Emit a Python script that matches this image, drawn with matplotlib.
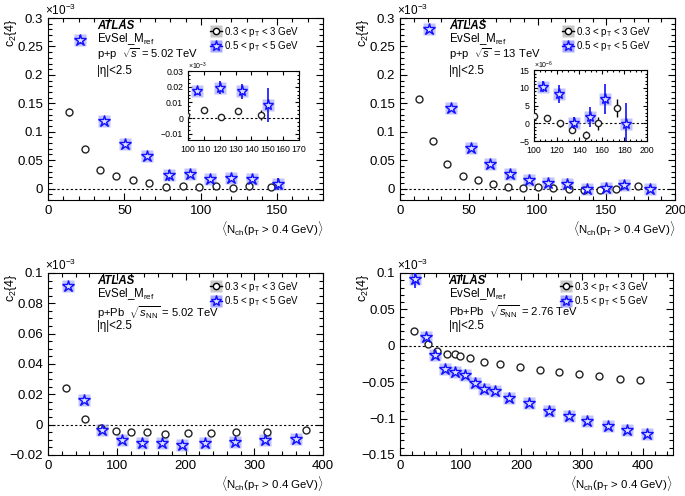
import numpy as np
import matplotlib
matplotlib.use("Agg")
import matplotlib.pyplot as plt
from matplotlib.ticker import MultipleLocator, FuncFormatter
from matplotlib.lines import Line2D

plt.rcParams['font.family'] = ['Liberation Sans', 'DejaVu Sans']
plt.rcParams['mathtext.fontset'] = 'custom'
plt.rcParams['mathtext.rm'] = 'Liberation Sans'
plt.rcParams['mathtext.it'] = 'Liberation Sans:italic'
plt.rcParams['mathtext.bf'] = 'Liberation Sans:bold'

# ---- data (c2{4} in units of 1e-3) ----
# p+p 5.02 TeV
pp5_x_lo = [13.7, 24, 34.2, 44.7, 55.6, 66.3, 77, 88.3, 98.8, 110, 121, 131.5, 146]
pp5_y_lo = [0.135, 0.069, 0.032, 0.022, 0.016, 0.009, 0.002, 0.004, 0.002, 0.005, 0.001, 0.0045, 0.002]
pp5_e_lo = [0.007, 0.003, 0.002, 0.002, 0.002, 0.002, 0.002, 0.002, 0.002, 0.001, 0.0015, 0.0015, 0.003]
pp5_x_hi = [20.7, 36.4, 50.4, 64.5, 79, 92.6, 105.7, 120, 133.8, 150.4]
pp5_y_hi = [0.262, 0.119, 0.078, 0.058, 0.0235, 0.025, 0.017, 0.0195, 0.017, 0.0085]
pp5_e_hi = [0.008, 0.004, 0.004, 0.004, 0.01, 0.004, 0.002, 0.004, 0.005, 0.011]

# p+p 13 TeV
pp13_x_lo = [13.8, 24.2, 34.4, 45.6, 56.5, 67.4, 78.8, 89.2, 100.4, 111.5, 122.9, 134, 145.7, 157, 173]
pp13_y_lo = [0.158, 0.083, 0.043, 0.023, 0.0147, 0.0082, 0.0035, 0.0018, 0.002, 0.0015, 0.0, -0.002, -0.0033, 0.0, 0.0042]
pp13_e_lo = [0.003, 0.002, 0.002, 0.001, 0.001, 0.001, 0.001, 0.001, 0.0005, 0.0005, 0.001, 0.0008, 0.0012, 0.0018, 0.0025]
pp13_x_hi = [21.3, 36.8, 51.6, 65.5, 80, 93.8, 107.9, 121.7, 135.8, 149.6, 163, 181.8]
pp13_y_hi = [0.281, 0.141, 0.071, 0.044, 0.025, 0.0147, 0.0103, 0.0083, 0.0, 0.0018, 0.0068, -0.0002]
pp13_e_hi = [0.004, 0.003, 0.002, 0.002, 0.002, 0.002, 0.0015, 0.0025, 0.0017, 0.0028, 0.0043, 0.0058]

# p+Pb 5.02 TeV
ppb_x_lo = [26.7, 53.3, 76.6, 98.4, 121, 144, 169.7, 203.6, 237.6, 273, 319, 375.8]
ppb_y_lo = [0.024, 0.004, -0.002, -0.004, -0.005, -0.005, -0.006, -0.0057, -0.0057, -0.005, -0.005, -0.0035]
ppb_x_hi = [29, 51.9, 78, 108, 137, 166, 195.4, 228.8, 272.5, 316, 361]
ppb_y_hi = [0.0914, 0.016, -0.0033, -0.0099, -0.0119, -0.0123, -0.0137, -0.0119, -0.0114, -0.0099, -0.0095]

# Pb+Pb 2.76 TeV
pbpb_x_lo = [23, 46.4, 61.7, 78, 90, 99.5, 116, 137.7, 164.5, 197, 230, 262, 295, 328, 362, 395.6]
pbpb_y_lo = [0.0197, 0.0023, -0.0078, -0.011, -0.0115, -0.0138, -0.0174, -0.0216, -0.0248, -0.0294,
             -0.0326, -0.036, -0.039, -0.041, -0.045, -0.047]
pbpb_x_hi = [24.6, 42.6, 57, 74.3, 91, 107, 123, 139, 156, 180, 213, 245, 278, 309, 342.6, 374, 407]
pbpb_y_hi = [0.092, 0.0125, -0.012, -0.0317, -0.0362, -0.040, -0.0505, -0.0587, -0.062, -0.072, -0.079,
             -0.089, -0.0963, -0.1028, -0.110, -0.116, -0.1216]
pbpb_e_hi = [0.012] + [0.001] * 16

lab_lo = "0.3 < p$_\\mathrm{T}$ < 3 GeV"
lab_hi = "0.5 < p$_\\mathrm{T}$ < 5 GeV"
xlabel = "$\\langle$N$_\\mathrm{ch}$(p$_\\mathrm{T}$ > 0.4 GeV)$\\rangle$"

BLUE = '#1010ff'
BOX_BLUE = '#a8a8ff'
BOX_GREY = '#c8c8c8'


def fmt(v, p):
    s = ('%g' % round(v, 6))
    return s.replace('-', '\u2212')


def draw(ax, x_lo, y_lo, e_lo, x_hi, y_hi, e_hi, ms_c=5, ms_s=9, box=9):
    ax.plot(x_hi, y_hi, ls='none', marker='s', ms=box, mfc=BOX_BLUE, mec='none', alpha=0.7, zorder=2)
    ax.errorbar(x_lo, y_lo, yerr=e_lo, ls='none', marker='o', ms=ms_c, mfc='white', mec='#222222',
                mew=1.0, ecolor='black', elinewidth=1.0, capsize=0, zorder=3)
    ax.errorbar(x_hi, y_hi, yerr=e_hi, ls='none', marker='*', ms=ms_s, mfc='#e0e0ff', mec=BLUE,
                mew=1.0, ecolor=BLUE, elinewidth=1.2, capsize=0, zorder=4)
    ax.axhline(0, color='black', ls=(0, (2, 2)), lw=0.8, zorder=1)


def style(ax, xmaj, xmin, ymaj, ymin, fs=9.5, tl=5):
    ax.tick_params(which='both', direction='in', top=True, right=True, labelsize=fs)
    ax.tick_params(which='major', length=tl, width=0.8)
    ax.tick_params(which='minor', length=tl * 0.55, width=0.8)
    ax.xaxis.set_major_locator(MultipleLocator(xmaj))
    ax.xaxis.set_minor_locator(MultipleLocator(xmin))
    ax.yaxis.set_major_locator(MultipleLocator(ymaj))
    ax.yaxis.set_minor_locator(MultipleLocator(ymin))
    ax.yaxis.set_major_formatter(FuncFormatter(fmt))
    ax.xaxis.set_major_formatter(FuncFormatter(fmt))
    for s in ax.spines.values():
        s.set_linewidth(0.8)


def labels(ax, sysline, ys=0.80):
    ax.text(-0.01, 1.0, "\u00d710$^{-3}$", transform=ax.transAxes, ha='left', va='bottom', fontsize=8.5)
    ax.text(-0.135, 1.0, "c$_2${4}", transform=ax.transAxes, rotation=90, ha='center', va='top', fontsize=9)
    ax.text(1.0, -0.105, xlabel, transform=ax.transAxes, ha='right', va='top', fontsize=8.2)
    x0 = 0.178
    ax.text(x0, 0.957, "ATLAS", transform=ax.transAxes, fontsize=8.3, fontweight='bold', style='italic', va='center')
    ax.text(x0, 0.885, "EvSel_M$_\\mathrm{ref}$", transform=ax.transAxes, fontsize=8.3, va='center')
    ax.text(x0, ys, sysline, transform=ax.transAxes, fontsize=8.1, va='center')
    ax.text(x0, 0.71, "|\u03b7|<2.5", transform=ax.transAxes, fontsize=8.3, va='center')
    h_lo = (Line2D([], [], ls='none', marker='s', ms=8, mfc=BOX_GREY, mec='none'),
            Line2D([], [], color='black', lw=1, marker='o', ms=4.5, mfc='white', mec='black'))
    h_hi = (Line2D([], [], ls='none', marker='s', ms=8, mfc=BOX_BLUE, mec='none'),
            Line2D([], [], color=BLUE, lw=1, marker='*', ms=8, mfc='#e0e0ff', mec=BLUE))
    ax.legend([h_lo, h_hi], [lab_lo, lab_hi], loc='upper right', bbox_to_anchor=(0.935, 0.995),
              frameon=False, fontsize=7, handlelength=1.2, handletextpad=0.25, labelspacing=0.05,
              borderaxespad=0.2)


fig = plt.figure(figsize=(6.85, 4.96), dpi=100)

# top-left
ax1 = fig.add_axes([0.0701, 0.5968, 0.4015, 0.3669])
draw(ax1, pp5_x_lo, pp5_y_lo, pp5_e_lo, pp5_x_hi, pp5_y_hi, pp5_e_hi)
ax1.set_xlim(0, 180)
ax1.set_ylim(-0.02, 0.3)
style(ax1, 50, 10, 0.05, 0.01)
labels(ax1, "p+p  $\\sqrt{s}$ = 5.02 TeV", ys=0.803)

in1 = fig.add_axes([0.2745, 0.7177, 0.162, 0.139])
draw(in1, pp5_x_lo, pp5_y_lo, pp5_e_lo, pp5_x_hi, pp5_y_hi, pp5_e_hi, ms_c=4.5, ms_s=8, box=8)
in1.set_xlim(100, 170)
in1.set_ylim(-0.014, 0.03)
style(in1, 10, 10, 0.01, 0.0025, fs=6.3, tl=3)
in1.text(0.0, 0.99, "\u00d710$^{-3}$", transform=in1.transAxes, ha='left', va='bottom', fontsize=5)

# top-right
ax2 = fig.add_axes([0.584, 0.5968, 0.4015, 0.3669])
draw(ax2, pp13_x_lo, pp13_y_lo, pp13_e_lo, pp13_x_hi, pp13_y_hi, pp13_e_hi)
ax2.set_xlim(0, 200)
ax2.set_ylim(-0.02, 0.3)
style(ax2, 50, 10, 0.05, 0.01)
labels(ax2, "p+p  $\\sqrt{s}$ = 13 TeV", ys=0.803)

in2 = fig.add_axes([0.7796, 0.7157, 0.165, 0.1431])
s6 = 1000.0  # 1e-3 -> 1e-6 units
draw(in2, pp13_x_lo, np.array(pp13_y_lo) * s6, np.array(pp13_e_lo) * s6,
     pp13_x_hi, np.array(pp13_y_hi) * s6, np.array(pp13_e_hi) * s6, ms_c=4.5, ms_s=8, box=8)
in2.set_xlim(100, 200)
in2.set_ylim(-5, 15)
style(in2, 20, 5, 5, 1, fs=6.3, tl=3)
in2.text(0.0, 0.99, "\u00d710$^{-6}$", transform=in2.transAxes, ha='left', va='bottom', fontsize=5)

# bottom-left
ax3 = fig.add_axes([0.0701, 0.0827, 0.4015, 0.3669])
draw(ax3, ppb_x_lo, ppb_y_lo, [0.0006] * len(ppb_x_lo), ppb_x_hi, ppb_y_hi, [0.001] * len(ppb_x_hi))
ax3.set_xlim(0, 400)
ax3.set_ylim(-0.02, 0.1)
style(ax3, 100, 20, 0.02, 0.005)
labels(ax3, "p+Pb  $\\sqrt{s_\\mathrm{NN}}$ = 5.02 TeV", ys=0.785)

# bottom-right
ax4 = fig.add_axes([0.584, 0.0827, 0.3985, 0.3669])
draw(ax4, pbpb_x_lo, pbpb_y_lo, [0.001] * len(pbpb_x_lo), pbpb_x_hi, pbpb_y_hi, pbpb_e_hi)
ax4.set_xlim(0, 450)
ax4.set_ylim(-0.15, 0.1)
style(ax4, 100, 20, 0.05, 0.01)
labels(ax4, "Pb+Pb  $\\sqrt{s_\\mathrm{NN}}$ = 2.76 TeV", ys=0.785)

fig.savefig("out.png", dpi=100)
